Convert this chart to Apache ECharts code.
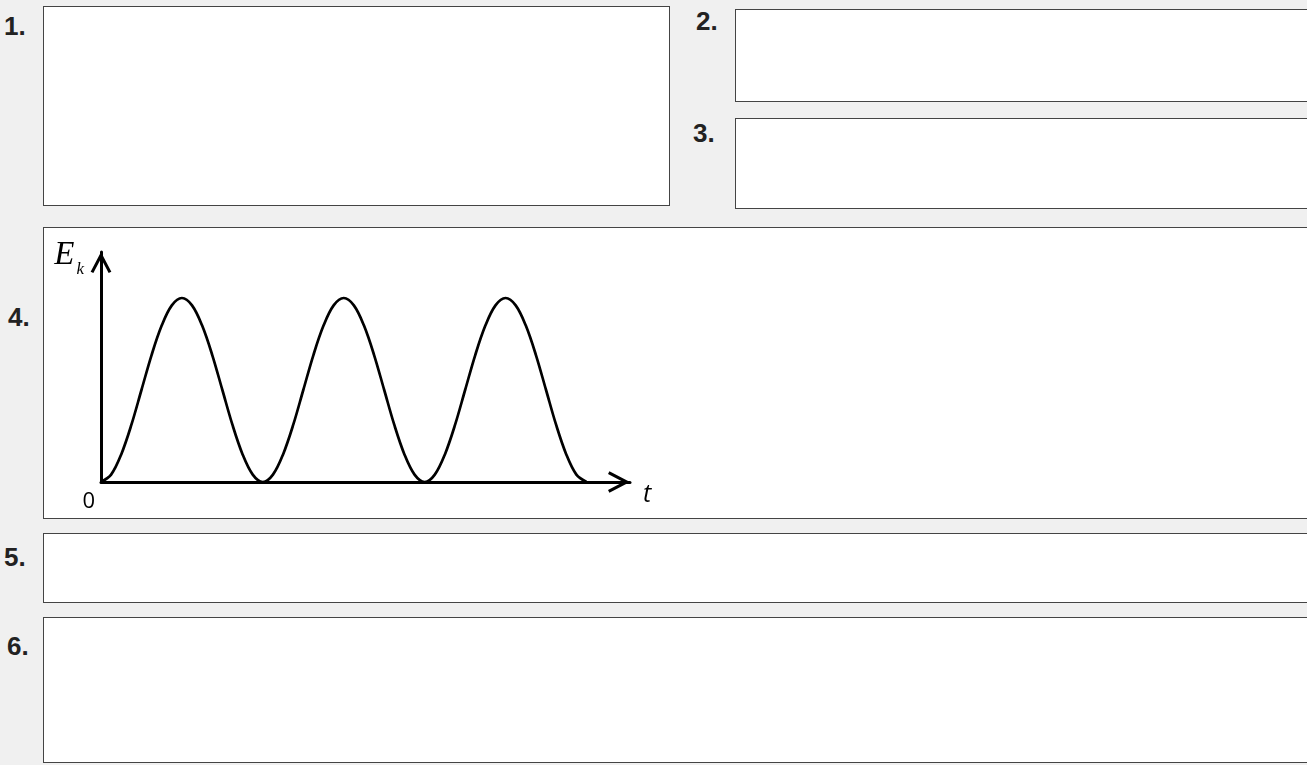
<!DOCTYPE html>
<html>
<head>
<meta charset="utf-8">
<title>Ek - t</title>
<script src="https://cdn.jsdelivr.net/npm/echarts@6/dist/echarts.min.js"></script>
<style>
    html, body {
        margin: 0;
        padding: 0;
        width: 1307px;
        height: 765px;
        overflow: hidden;
        background: #f0f0f0;
    }
    .num {
        position: absolute;
        font: bold 26px "Liberation Sans", Arial, sans-serif;
        line-height: 26px;
        color: #222;
    }
    .box {
        position: absolute;
        box-sizing: border-box;
        background: #fff;
        border: 1px solid #444;
    }
    #chart {
        position: absolute;
        left: 0;
        top: 0;
        width: 100%;
        height: 100%;
    }
</style>
</head>
<body>
<div class="num" style="left:4px;top:13px">1.</div>
<div class="box" style="left:43px;top:6px;width:627px;height:200px"></div>

<div class="num" style="left:696px;top:8px">2.</div>
<div class="box" style="left:735px;top:9px;width:700px;height:93px"></div>

<div class="num" style="left:693px;top:120px">3.</div>
<div class="box" style="left:735px;top:118px;width:700px;height:91px"></div>

<div class="num" style="left:8px;top:304px">4.</div>
<div class="box" style="left:43px;top:227px;width:1300px;height:292px">
    <div id="chart"></div>
</div>

<div class="num" style="left:4px;top:544px">5.</div>
<div class="box" style="left:43px;top:533px;width:1300px;height:70px"></div>

<div class="num" style="left:7px;top:633px">6.</div>
<div class="box" style="left:43px;top:617px;width:1300px;height:146px"></div>

<script>
// time steps (1/16 of a hump each), three humps
const times = [
    0, 1, 2, 3, 4, 5, 6, 7, 8, 9, 10, 11, 12, 13, 14, 15, 16,
    17, 18, 19, 20, 21, 22, 23, 24, 25, 26, 27, 28, 29, 30, 31, 32,
    33, 34, 35, 36, 37, 38, 39, 40, 41, 42, 43, 44, 45, 46, 47, 48
]
// kinetic energy, peak = 1
const energy = [
    0, 0.04, 0.15, 0.31, 0.5, 0.69, 0.85, 0.96, 1, 0.96, 0.85, 0.69, 0.5, 0.31, 0.15, 0.04, 0,
    0.04, 0.15, 0.31, 0.5, 0.69, 0.85, 0.96, 1, 0.96, 0.85, 0.69, 0.5, 0.31, 0.15, 0.04, 0,
    0.04, 0.15, 0.31, 0.5, 0.69, 0.85, 0.96, 1, 0.96, 0.85, 0.69, 0.5, 0.31, 0.15, 0.04, 0
]
const originLabel = '0'
const xName = 't'
const yName = '{e|E}{k|k}'

// open arrow head (points up, rotated by echarts for each axis)
const chevron = 'path://M0,19 L10,0 L20,19 L17.4,20.3 L10,6.2 L2.6,20.3 Z'

const chart = echarts.init(document.getElementById('chart'))
const options = {
    animation: false,
    grid: {
        left: 57,
        top: 24,
        width: 529,
        height: 230,
        containLabel: false,
        outerBoundsMode: 'none'
    },
    xAxis: {
        type: 'value',
        min: 0,
        max: 52.3,
        name: xName,
        nameLocation: 'end',
        nameGap: 13,
        nameMoveOverlap: false,
        nameTextStyle: {
            fontFamily: 'Open Sans',
            fontStyle: 'italic',
            fontSize: 25,
            color: '#000',
            verticalAlign: 'top'
        },
        axisLine: {
            show: true,
            onZero: false,
            symbol: ['none', chevron],
            symbolSize: [22, 22],
            symbolOffset: [0, -11],
            lineStyle: { color: '#000', width: 3 }
        },
        axisTick: { show: false },
        splitLine: { show: false },
        axisLabel: {
            formatter: (value) => value === 0 ? originLabel : '',
            fontFamily: 'Open Sans',
            fontSize: 22,
            color: '#000',
            align: 'right',
            margin: 9,
            padding: [0, 6, 0, 0]
        }
    },
    yAxis: {
        type: 'value',
        min: 0,
        max: 1.25,
        name: yName,
        nameLocation: 'end',
        nameGap: 13,
        nameMoveOverlap: false,
        nameTextStyle: {
            align: 'right',
            verticalAlign: 'top',
            padding: [0, 17, 0, 0],
            rich: {
                e: {
                    fontFamily: 'Liberation Serif',
                    fontStyle: 'italic',
                    fontSize: 33,
                    lineHeight: 33,
                    color: '#000'
                },
                k: {
                    fontFamily: 'Liberation Serif',
                    fontStyle: 'italic',
                    fontSize: 17,
                    lineHeight: 17,
                    color: '#000',
                    padding: [28, 0, 0, 2]
                }
            }
        },
        axisLine: {
            show: true,
            onZero: false,
            symbol: ['none', chevron],
            symbolSize: [21, 21],
            symbolOffset: [0, -10.5],
            lineStyle: { color: '#000', width: 3 }
        },
        axisTick: { show: false },
        splitLine: { show: false },
        axisLabel: { show: false }
    },
    series: [
        {
            name: 'Ek',
            type: 'line',
            data: times.map((t, i) => [t, energy[i]]),
            smooth: 0.35,
            showSymbol: false,
            silent: true,
            lineStyle: { color: '#000', width: 2.7 }
        }
    ]
}
chart.setOption(options)
</script>
</body>
</html>
